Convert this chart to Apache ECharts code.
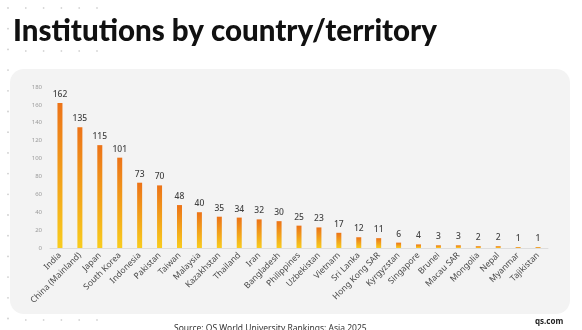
<!DOCTYPE html>
<html><head><meta charset="utf-8">
<script src="https://cdn.jsdelivr.net/npm/echarts@6/dist/echarts.min.js"></script>
<style>html,body{margin:0;padding:0;background:#fff}#c{width:582px;height:330px}</style>
</head><body><div id="c"></div>
<script>
const categories = ["India","China (Mainland)","Japan","South Korea","Indonesia","Pakistan","Taiwan","Malaysia","Kazakhstan","Thailand","Iran","Bangladesh","Philippines","Uzbekistan","Vietnam","Sri Lanka","Hong Kong SAR","Kyrgyzstan","Singapore","Brunei","Macau SAR","Mongolia","Nepal","Myanmar","Tajikistan"];
const institutions = [162,135,115,101,73,70,48,40,35,34,32,30,25,23,17,12,11,6,4,3,3,2,2,1,1];
const yTicks = [0,20,40,60,80,100,120,140,160,180];

const chart = echarts.init(document.getElementById('c'), null, {renderer:'canvas'});
const dots = [];
for (let i = 0; i < 16; i++) dots.push({type:'circle', shape:{cx:8, cy:8 + i*20.7, r:0.9}, style:{fill:'#cfcfcf'}, silent:true});
[8, 51].forEach(y => { for (let j = 1; j < 6; j++) dots.push({type:'circle', shape:{cx:8 + j*17.8, cy:y, r:0.9}, style:{fill:'#d6d6d6'}, silent:true}); });
for (let j = 1; j < 6; j++) dots.push({type:'circle', shape:{cx:8 + j*17.8, cy:320, r:0.9}, style:{fill:'#d6d6d6'}, silent:true});

chart.setOption({
  animation:false,
  backgroundColor:'#ffffff',
  graphic:[
    {type:'rect', z:-10, shape:{x:10, y:69, width:560, height:245, r:14}, style:{fill:'#f3f3f3'}, silent:true},
    ...dots,
    {type:'text', left:13, top:16, style:{text:'Institutions by country/territory', font:'900 29.5px Lato', fill:'#111111'}},
    {type:'text', left:174, top:324, style:{text:'Source: QS World University Rankings: Asia 2025', font:'8.5px "Noto Sans"', fill:'#333333'}},
    {type:'text', left:535, top:318, style:{text:'qs.com', font:'bold 8px "Noto Sans"', fill:'#222222'}}
  ],
  grid:{left:50, right:34, top:87, bottom:82},
  xAxis:{
    type:'category', data:categories,
    axisLine:{lineStyle:{color:'#dddddd', width:1}},
    axisTick:{show:false},
    axisLabel:{rotate:45, interval:0, fontSize:8.5, color:'#4a4a4a', fontFamily:'Noto Sans', margin:6}
  },
  yAxis:{
    type:'value', min:yTicks[0], max:yTicks[yTicks.length-1], interval:20,
    splitLine:{show:false}, axisLine:{show:false}, axisTick:{show:false},
    axisLabel:{fontSize:6, color:'#9a9a9a', fontFamily:'Noto Sans', margin:8}
  },
  series:[{
    type:'bar', data:institutions, barWidth:5,
    itemStyle:{color:new echarts.graphic.LinearGradient(0,0,0,1,[{offset:0,color:'#ec7318'},{offset:1,color:'#f8cc1e'}])},
    label:{show:true, position:'top', distance:4, fontSize:8.5, fontWeight:500, color:'#444444', fontFamily:'Noto Sans'}
  }]
});
</script></body></html>
